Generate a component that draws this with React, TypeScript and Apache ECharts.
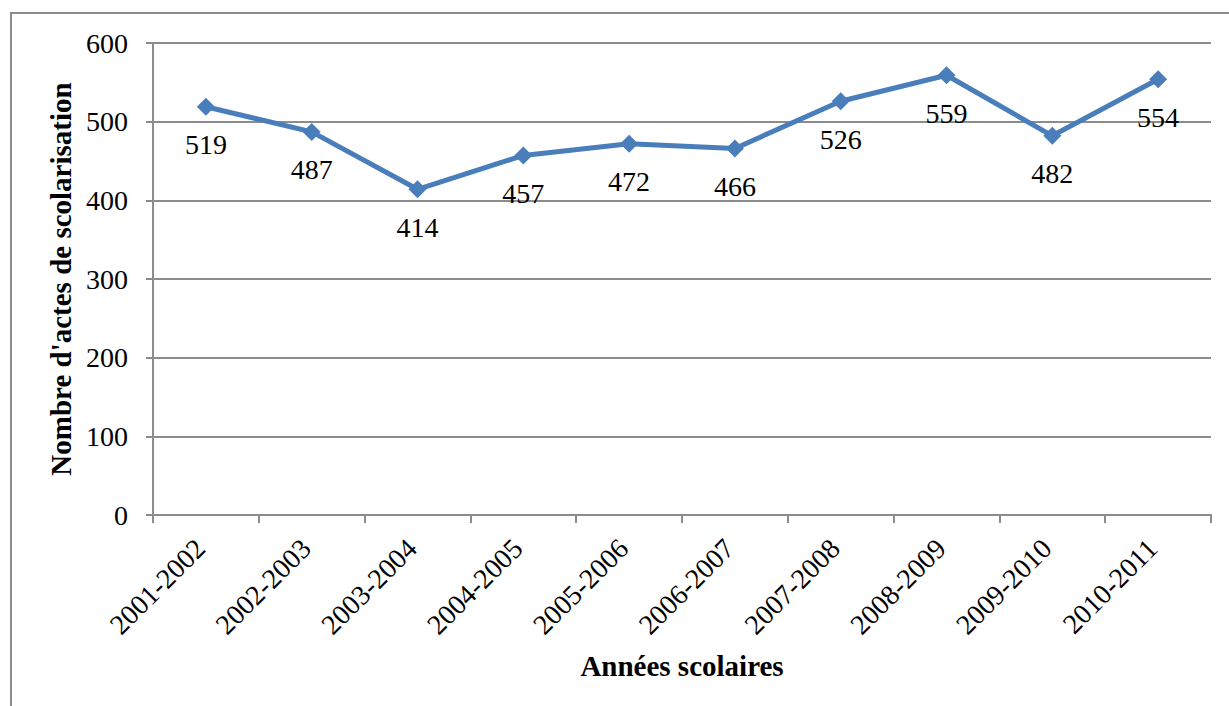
import React, { useEffect, useRef } from "react";
import * as echarts from "echarts";

const categories = [
  "2001-2002", "2002-2003", "2003-2004", "2004-2005", "2005-2006",
  "2006-2007", "2007-2008", "2008-2009", "2009-2010", "2010-2011",
];
const values = [519, 487, 414, 457, 472, 466, 526, 559, 482, 554];
const yTitle = "Nombre d'actes de scolarisation";
const xTitle = "Années scolaires";

const serif = "Liberation Serif";
const gray = "#8c8c8c";

export default function App() {
  const ref = useRef<HTMLDivElement>(null);
  useEffect(() => {
    if (!ref.current) return;
    const chart = echarts.init(ref.current, null, { renderer: "svg" });
    chart.setOption({
      animation: false,
      backgroundColor: "#ffffff",
      textStyle: { fontFamily: serif },
      graphic: [
        {
          type: "rect",
          shape: { x: 11, y: 13, width: 1400, height: 900 },
          style: { fill: "none", stroke: gray, lineWidth: 2 },
          silent: true,
        },
      ],
      grid: { left: 153, right: 18, top: 43, bottom: 191 },
      xAxis: {
        type: "category",
        data: categories,
        boundaryGap: true,
        name: xTitle,
        nameLocation: "middle",
        nameGap: 136,
        nameTextStyle: { fontFamily: serif, fontSize: 29, fontWeight: "bold", color: "#000" },
        axisLine: { lineStyle: { color: gray, width: 2 } },
        axisTick: { show: true, length: 8, alignWithLabel: false, lineStyle: { color: gray, width: 2 } },
        axisLabel: {
          rotate: 45,
          fontFamily: serif,
          fontSize: 28,
          color: "#000",
          margin: 23,
          padding: [0, 8, 0, 0],
        },
      },
      yAxis: {
        type: "value",
        min: 0,
        max: 600,
        interval: 100,
        name: yTitle,
        nameLocation: "middle",
        nameGap: 76,
        nameTextStyle: { fontFamily: serif, fontSize: 29, fontWeight: "bold", color: "#000" },
        axisLine: { show: true, lineStyle: { color: gray, width: 2 } },
        axisTick: { show: true, length: 7, lineStyle: { color: gray, width: 2 } },
        splitLine: { show: true, lineStyle: { color: gray, width: 2 } },
        axisLabel: { fontFamily: serif, fontSize: 28, color: "#000", margin: 25 },
      },
      series: [
        {
          type: "line",
          data: values,
          symbol: "diamond",
          symbolSize: 18,
          lineStyle: { color: "#4a7ebb", width: 5 },
          itemStyle: { color: "#4a7ebb" },
          label: {
            show: true,
            position: "bottom",
            distance: 15,
            fontFamily: serif,
            fontSize: 28,
            color: "#000",
          },
        },
      ],
    });
    return () => chart.dispose();
  }, []);
  return (
    <div
      ref={ref}
      style={{ position: "absolute", left: 0, top: 0, width: 1229, height: 706 }}
    />
  );
}
